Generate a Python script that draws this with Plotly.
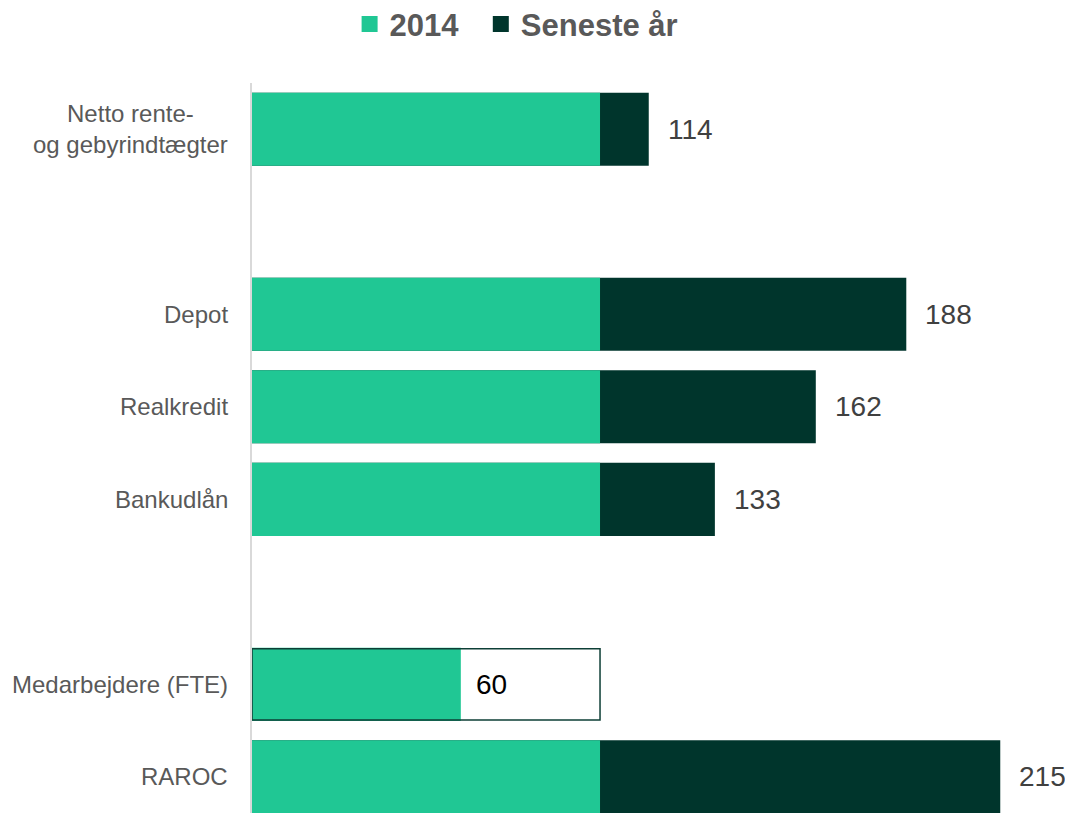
import plotly.graph_objects as go

# data: index, 2014 = 100
kategorier = ["Netto rente-<br>og gebyrindtægter", "Depot", "Realkredit",
              "Bankudlån", "Medarbejdere (FTE)", "RAROC"]
raekke = [0, 2, 3, 4, 6, 7]          # tomme rækker 1 og 5 giver mellemrum
basis_2014 = [100, 100, 100, 100, 100, 100]
seneste_aar = [114, 188, 162, 133, 60, 215]

GROEN = "#20c794"
MOERK = "#00352c"
GRAA = "#595959"
FONT = "Liberation Sans, Arial, sans-serif"

groen = [min(b, s) for b, s in zip(basis_2014, seneste_aar)]
moerk_x = [s if s > b else None for b, s in zip(basis_2014, seneste_aar)]
boks_x = [b if s < b else None for b, s in zip(basis_2014, seneste_aar)]

fig = go.Figure()
fig.add_trace(go.Bar(
    y=raekke, x=moerk_x, orientation="h", name="Seneste år", showlegend=False,
    marker=dict(color=MOERK, line_width=0), width=0.79, hoverinfo="skip"))
fig.add_trace(go.Bar(
    y=raekke, x=groen, orientation="h", name="2014", showlegend=False,
    marker=dict(color=GROEN, line_width=0), width=0.79, hoverinfo="skip"))
# ramme for værdier under 2014-niveau
fig.add_trace(go.Bar(
    y=raekke, x=boks_x, orientation="h", showlegend=False,
    marker=dict(color="rgba(0,0,0,0)", line=dict(color="#0e3f36", width=1.5)),
    width=0.77, hoverinfo="skip"))

# forklaring med store firkanter (nbsp giver lidt ekstra luft)
for navn, farve in [("2014\u00a0\u00a0", GROEN), ("Seneste år", MOERK)]:
    fig.add_trace(go.Scatter(
        x=[None], y=[None], mode="markers", name=navn,
        marker=dict(symbol="square", size=16, color=farve)))

annotations = []
for r, navn, b, s in zip(raekke, kategorier, basis_2014, seneste_aar):
    annotations.append(dict(
        x=0, y=r, xref="paper", yref="y", text=navn, showarrow=False,
        xanchor="right", align="center", xshift=-22,
        font=dict(family=FONT, size=24, color=GRAA)))
    inde = s < b
    annotations.append(dict(
        x=s, y=r, xref="x", yref="y", text=str(s), showarrow=False,
        xanchor="left", xshift=13 if inde else 17,
        font=dict(family=FONT, size=28, color="#000000" if inde else "#404040")))

fig.update_layout(
    width=1073, height=813,
    barmode="overlay",
    paper_bgcolor="white", plot_bgcolor="white",
    margin=dict(l=244, r=0, t=75, b=8),
    font=dict(family=FONT, color=GRAA),
    xaxis=dict(range=[0, 238.2], visible=False, fixedrange=True),
    yaxis=dict(range=[7.39, -0.5], showticklabels=False, showgrid=False,
               zeroline=False, showline=True, linecolor="#d9d9d9", linewidth=2,
               ticks=""),
    legend=dict(orientation="h", xref="container", yref="container",
                x=0.474, xanchor="center", y=0.98, yanchor="middle",
                font=dict(family=FONT, size=31, color=GRAA, weight="bold"),
                itemwidth=30, itemsizing="trace"),
    annotations=annotations,
)

fig.write_html("out.html")
